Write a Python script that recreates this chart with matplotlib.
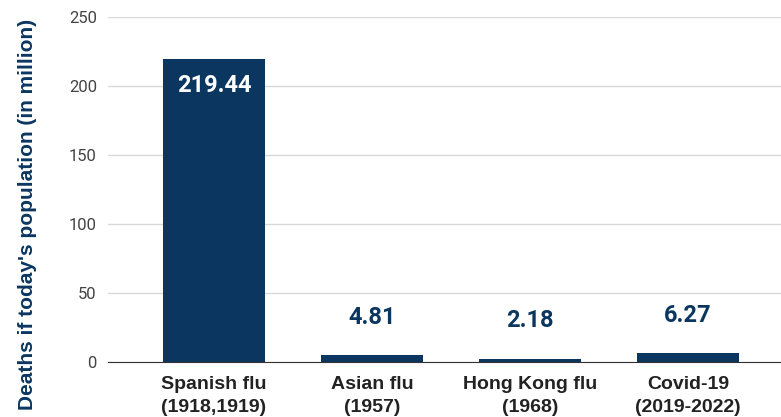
import matplotlib
matplotlib.use("Agg")
import matplotlib.pyplot as plt

categories = ["Spanish flu\n(1918,1919)", "Asian flu\n(1957)", "Hong Kong flu\n(1968)", "Covid-19\n(2019-2022)"]
values = [219.44, 4.81, 2.18, 6.27]
value_labels = ["219.44", "4.81", "2.18", "6.27"]
yticks = [0, 50, 100, 150, 200, 250]

plt.rcParams['font.family'] = ['Roboto', 'DejaVu Sans']
navy = "#0b3660"

W, H = 781, 417
fig = plt.figure(figsize=(W/100, H/100), dpi=100)
left, right, bottom, top = 108, 781, 362, 17
ax = fig.add_axes([left/W, (H-bottom)/H, (right-left)/W, (bottom-top)/H])

x = list(range(len(categories)))
ax.bar(x, values, width=0.65, color=navy, zorder=3)
ax.set_xlim(-0.671, 3.589)
ax.set_ylim(0, 250)
ax.set_yticks(yticks)
ax.set_yticklabels([str(t) for t in yticks], fontsize=12, color="#444444")
ax.set_xticks(x)
ax.set_xticklabels(categories, fontsize=14, fontweight="bold", color="#222222",
                   linespacing=1.5, family=["Liberation Sans", "DejaVu Sans"])
ax.tick_params(axis="both", length=0)
ax.tick_params(axis="y", pad=8)
ax.tick_params(axis="x", pad=10)
ax.grid(axis="y", color="#d9d9d9", linewidth=1, zorder=0)
for s in ["top", "right", "left"]:
    ax.spines[s].set_visible(False)
ax.spines["bottom"].set_color("#333333")
ax.spines["bottom"].set_zorder(4)

for xi, v, lab in zip(x, values, value_labels):
    if v > 100:
        ax.annotate(lab, (xi, v), xytext=(0, -26), textcoords="offset pixels",
                    ha="center", va="center", fontsize=17, fontweight="bold", color="white", zorder=5)
    else:
        ax.annotate(lab, (xi, v), xytext=(0, 38), textcoords="offset pixels",
                    ha="center", va="center", fontsize=17, fontweight="bold", color=navy, zorder=5)

fig.text(28/W, 1 - 214/H, "Deaths if today's population (in million)", rotation=90,
         ha="center", va="center", fontsize=15, fontweight="bold", color=navy,
         family=["Liberation Sans", "DejaVu Sans"])

fig.savefig("out.png", dpi=100)
